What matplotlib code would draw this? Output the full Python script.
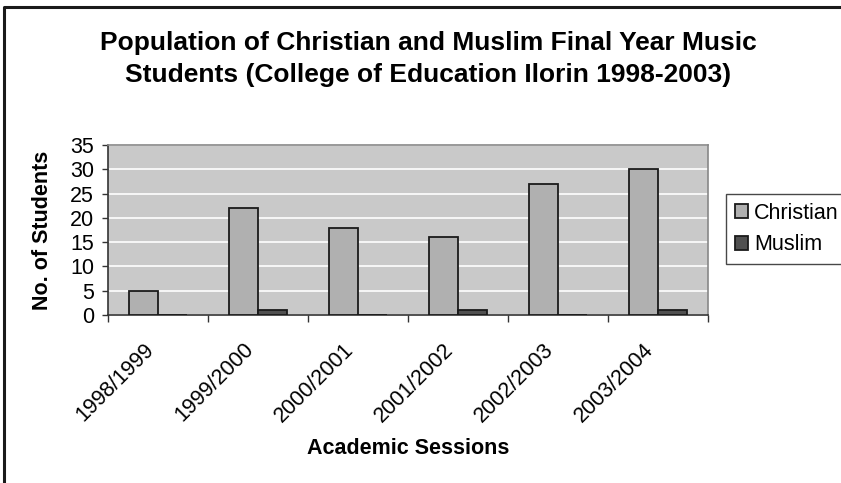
#!/usr/bin/env python

# Christian vs Muslim final year music students, Excel-style bar chart

import numpy as np
import matplotlib
matplotlib.use("Agg")
import matplotlib.pyplot as plt
import matplotlib.lines as mlines
from matplotlib.transforms import ScaledTranslation

sessions = ['1998/1999', '1999/2000', '2000/2001', '2001/2002', '2002/2003', '2003/2004']
christian = [5, 22, 18, 16, 27, 30]
muslim = [0, 1, 0, 1, 0, 1]
series_names = ['Christian', 'Muslim']

plt.rcParams['font.family'] = ['Liberation Sans', 'DejaVu Sans']

fig = plt.figure(figsize=(8.41, 4.83), dpi=100)
ax = fig.add_axes([108/841, 1-315/483, 600/841, 170/483])

# outer chart border (only left and top visible, cut at the image edge)
x0, y0 = 4/841, 1-7/483
fig.lines.append(mlines.Line2D([x0, x0, 1.01], [-0.01, y0, y0], transform=fig.transFigure,
                               color='#1a1a1a', linewidth=2.2))

x = np.arange(len(sessions))
w = 0.2857
ax.set_facecolor('#c9c9c9')
ax.bar(x - w/2, christian, w, color='#b0b0b0', edgecolor='#1a1a1a', linewidth=1.3,
       label=series_names[0], zorder=3)
ax.bar(x + w/2, muslim, w, color='#505050', edgecolor='#1a1a1a', linewidth=1.3,
       label=series_names[1], zorder=3)

ax.set_xlim(-0.5, len(sessions) - 0.5)
ax.set_ylim(0, 35)
ax.set_yticks(range(0, 36, 5))
ax.yaxis.grid(True, color='white', linewidth=1.2, zorder=1)
ax.set_axisbelow(True)

# ticks between categories, rotated labels drawn at the centres
ax.set_xticks(np.arange(-0.5, len(sessions), 1))
ax.set_xticklabels([])
lab_tr = ax.get_xaxis_transform() + ScaledTranslation(-15/100, -24/100, fig.dpi_scale_trans)
for i, s in enumerate(sessions):
    ax.text(x[i], 0, s, transform=lab_tr, rotation=45, ha='right', va='top',
            rotation_mode='anchor', fontsize=15.5)
ax.tick_params(axis='x', which='major', length=5, width=1, direction='out', color='#333333')
ax.tick_params(axis='y', length=4, width=1, direction='out', labelsize=15.5, pad=6, color='#333333')

for s in ['left', 'bottom']:
    ax.spines[s].set_color('#333333')
    ax.spines[s].set_linewidth(1.2)
for s in ['top', 'right']:
    ax.spines[s].set_color('#888888')
    ax.spines[s].set_linewidth(1.2)

ax.set_ylabel('No. of Students', fontsize=15.5, fontweight='bold', labelpad=12)
fig.text(408/841, 1-448/483, 'Academic Sessions', ha='center', va='center',
         fontsize=15.5, fontweight='bold')

fig.text(428/841, 1-59/483,
         'Population of Christian and Muslim Final Year Music\nStudents (College of Education Ilorin 1998-2003)',
         ha='center', va='center', fontsize=19, fontweight='bold', linespacing=1.45)

leg = ax.legend(loc='upper left', bbox_to_anchor=(726/841, 1-194/483),
                bbox_transform=fig.transFigure, fontsize=15.5, frameon=True,
                fancybox=False, edgecolor='#1a1a1a', handlelength=0.6,
                handleheight=0.6, handletextpad=0.3, borderpad=0.4,
                labelspacing=0.5, borderaxespad=0)
leg.get_frame().set_linewidth(1)

fig.savefig('out.png', dpi=100)
